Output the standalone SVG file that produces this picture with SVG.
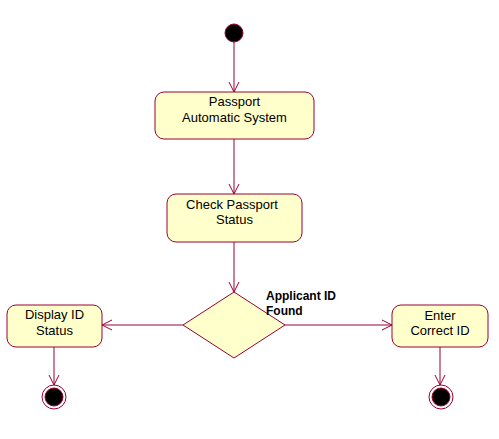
<svg xmlns="http://www.w3.org/2000/svg" width="499" height="439" viewBox="0 0 499 439">
<style>
.node{fill:#ffffcc;stroke:#990033;stroke-width:1}
.edge{stroke:#990033;stroke-width:1;fill:none}
.t{font-family:"Liberation Sans",Arial,sans-serif;font-size:13px;fill:#000;text-anchor:middle}
.lbl{font-family:"Liberation Sans",Arial,sans-serif;font-size:12px;font-weight:bold;fill:#000}
</style>
<defs>
<marker id="arr" markerWidth="12" markerHeight="12" refX="11" refY="6" orient="auto" markerUnits="userSpaceOnUse">
<path d="M1,1 L11,6 L1,11" fill="none" stroke="#990033" stroke-width="1"/>
</marker>
</defs>
<rect width="499" height="439" fill="#ffffff"/>
<g id="connectors">
<line class="edge" x1="234" y1="42" x2="234" y2="92" marker-end="url(#arr)"/>
<line class="edge" x1="234" y1="139" x2="234" y2="194" marker-end="url(#arr)"/>
<line class="edge" x1="234" y1="242" x2="234" y2="292" marker-end="url(#arr)"/>
<line class="edge" x1="183" y1="325" x2="102" y2="325" marker-end="url(#arr)"/>
<line class="edge" x1="285" y1="325" x2="392" y2="325" marker-end="url(#arr)"/>
<line class="edge" x1="54" y1="347" x2="54" y2="385" marker-end="url(#arr)"/>
<line class="edge" x1="440" y1="347" x2="440" y2="385" marker-end="url(#arr)"/>
</g>
<g id="start">
<circle cx="234" cy="33" r="9" fill="#000" stroke="#990033" stroke-width="1"/>
</g>
<g id="passport-automatic-system">
<rect class="node" x="155" y="92" width="159" height="47" rx="9"/>
<text class="t" x="234.5" y="106">Passport</text>
<text class="t" x="234.5" y="122">Automatic System</text>
</g>
<g id="check-passport-status">
<rect class="node" x="167" y="194" width="135" height="48" rx="9"/>
<text class="t" x="232" y="209">Check Passport</text>
<text class="t" x="234.5" y="224">Status</text>
</g>
<g id="decision">
<polygon class="node" points="234,292 285,325 234,358 183,325"/>
<text class="lbl" x="266" y="300">Applicant ID</text>
<text class="lbl" x="266" y="315">Found</text>
</g>
<g id="display-id-status">
<rect class="node" x="7" y="305" width="95" height="42" rx="9"/>
<text class="t" x="54.5" y="319">Display ID</text>
<text class="t" x="54.5" y="335">Status</text>
</g>
<g id="enter-correct-id">
<rect class="node" x="392" y="305" width="96" height="42" rx="9"/>
<text class="t" x="440" y="320">Enter</text>
<text class="t" x="440" y="335">Correct ID</text>
</g>
<g id="end-left">
<circle cx="54" cy="397" r="12" fill="#fff" stroke="#990033" stroke-width="1"/>
<circle cx="54" cy="397" r="9" fill="#000" stroke="#990033" stroke-width="1"/>
</g>
<g id="end-right">
<circle cx="441" cy="397" r="12" fill="#fff" stroke="#990033" stroke-width="1"/>
<circle cx="441" cy="397" r="9" fill="#000" stroke="#990033" stroke-width="1"/>
</g>
</svg>
